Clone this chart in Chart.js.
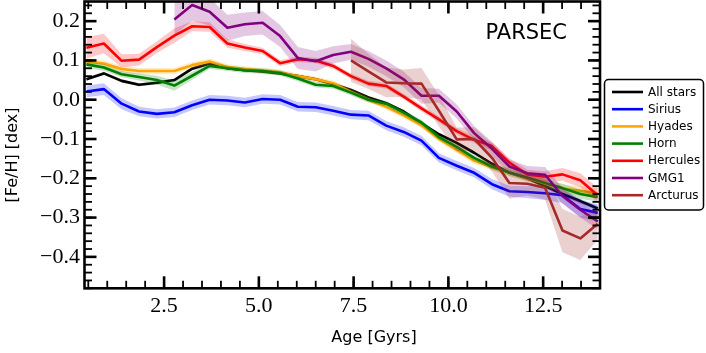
<!DOCTYPE html>
<html><head><meta charset="utf-8">
<script src="https://cdn.jsdelivr.net/npm/chart.js@4/dist/chart.umd.min.js"></script>
<style>html,body{margin:0;padding:0;background:#fff;}</style>
</head><body>
<canvas id="c" width="706" height="353"></canvas>
<script>
// ---- data ----
const ages = [0.45,0.91,1.38,1.84,2.31,2.77,3.24,3.70,4.17,4.63,5.10,5.56,6.03,6.50,6.96,7.43,7.89,8.36,8.82,9.29,9.75,10.22,10.68,11.15,11.61,12.08,12.55,13.01,13.48,13.94];

const allStars    = [0.052,0.067,0.048,0.038,0.043,0.050,0.079,0.092,0.080,0.075,0.072,0.067,0.060,0.052,0.040,0.025,0.006,-0.009,-0.030,-0.060,-0.088,-0.110,-0.135,-0.163,-0.186,-0.200,-0.220,-0.240,-0.258,-0.277];
const allStarsErr = [0.004,0.004,0.004,0.004,0.004,0.004,0.004,0.004,0.004,0.004,0.004,0.004,0.004,0.004,0.004,0.004,0.004,0.004,0.004,0.004,0.004,0.004,0.004,0.004,0.004,0.004,0.005,0.005,0.006,0.006];

const sirius      = [0.021,0.027,-0.010,-0.030,-0.036,-0.032,-0.014,0.000,-0.002,-0.007,0.002,0.000,-0.018,-0.019,-0.028,-0.038,-0.040,-0.066,-0.082,-0.104,-0.148,-0.168,-0.186,-0.215,-0.233,-0.235,-0.238,-0.243,-0.278,-0.288];
const siriusErr   = [0.015,0.015,0.014,0.012,0.012,0.012,0.012,0.012,0.012,0.012,0.012,0.012,0.012,0.012,0.012,0.012,0.012,0.012,0.012,0.012,0.012,0.012,0.012,0.013,0.014,0.015,0.017,0.020,0.022,0.022];

const hyades      = [0.097,0.092,0.078,0.073,0.073,0.073,0.088,0.097,0.083,0.078,0.074,0.070,0.060,0.052,0.042,0.020,0.000,-0.018,-0.040,-0.065,-0.100,-0.128,-0.155,-0.172,-0.185,-0.200,-0.213,-0.226,-0.232,-0.238];
const hyadesErr   = [0.009,0.008,0.008,0.008,0.008,0.008,0.008,0.008,0.007,0.007,0.007,0.007,0.007,0.007,0.007,0.007,0.007,0.007,0.007,0.007,0.007,0.008,0.008,0.008,0.009,0.009,0.010,0.011,0.012,0.012];

const horn        = [0.090,0.082,0.065,0.058,0.050,0.036,0.061,0.086,0.080,0.075,0.073,0.068,0.054,0.038,0.035,0.018,0.000,-0.010,-0.033,-0.058,-0.095,-0.120,-0.148,-0.170,-0.185,-0.198,-0.212,-0.225,-0.240,-0.248];
const hornErr     = [0.009,0.008,0.008,0.009,0.011,0.013,0.010,0.008,0.007,0.007,0.007,0.007,0.007,0.007,0.007,0.007,0.007,0.007,0.007,0.007,0.007,0.008,0.008,0.008,0.009,0.009,0.010,0.011,0.012,0.012];

const hercules    = [0.132,0.143,0.099,0.102,0.134,0.163,0.187,0.185,0.143,0.133,0.124,0.093,0.103,0.100,0.086,0.060,0.041,0.035,0.008,-0.022,-0.050,-0.080,-0.102,-0.118,-0.160,-0.190,-0.196,-0.190,-0.205,-0.243];
const herculesErr = [0.027,0.025,0.017,0.015,0.015,0.018,0.013,0.012,0.011,0.009,0.008,0.008,0.007,0.007,0.007,0.007,0.007,0.007,0.007,0.008,0.008,0.008,0.009,0.010,0.011,0.012,0.014,0.016,0.018,0.019];

const gmg1        = [null,null,null,null,null,0.204,0.241,0.224,0.183,0.192,0.196,0.162,0.106,0.098,0.114,0.122,0.104,0.080,0.052,0.010,0.010,-0.030,-0.085,-0.125,-0.170,-0.187,-0.191,-0.245,-0.280,-0.310];
const gmg1Err     = [null,null,null,null,null,0.040,0.040,0.035,0.033,0.030,0.030,0.028,0.028,0.026,0.022,0.020,0.020,0.020,0.020,0.020,0.018,0.018,0.018,0.018,0.018,0.018,0.020,0.020,0.020,0.020];

const arcturus    = [null,null,null,null,null,null,null,null,null,null,null,null,null,null,null,0.100,0.072,0.044,0.042,0.041,-0.028,-0.101,-0.100,-0.148,-0.212,-0.214,-0.224,-0.333,-0.353,-0.316];
const arcturusErr = [null,null,null,null,null,null,null,null,null,null,null,null,null,null,null,0.055,0.045,0.038,0.035,0.040,0.040,0.030,0.030,0.035,0.040,0.030,0.030,0.055,0.055,0.040];

const seriesNames  = ['All stars','Sirius','Hyades','Horn','Hercules','GMG1','Arcturus'];
const seriesValues = [allStars, sirius, hyades, horn, hercules, gmg1, arcturus];
const seriesErrors = [allStarsErr, siriusErr, hyadesErr, hornErr, herculesErr, gmg1Err, arcturusErr];
const seriesColors = ['#000000','#0000ff','#ffa500','#008000','#ff0000','#800080','#a52a2a'];

const xTicks = [2.5, 5.0, 7.5, 10.0, 12.5];
const yTicks = [-0.4, -0.3, -0.2, -0.1, 0.0, 0.1, 0.2];
const xRange = [0.4, 14.0];
const yRange = [-0.48, 0.25];
const xMinorStep = 0.5;
const yMinorStep = 0.02;
const xTitle = 'Age [Gyrs]';
const yTitle = '[Fe/H] [dex]';
const panelLabel = 'PARSEC';

// ---- helpers ----
function rgba(hex, a) {
  const n = parseInt(hex.slice(1), 16);
  return `rgba(${(n>>16)&255},${(n>>8)&255},${n&255},${a})`;
}
function pts(vals) { return ages.map((x, i) => ({x: x, y: vals[i]})); }
function fmt(v) {
  const s = Math.abs(v).toFixed(1);
  return v < -1e-9 ? '\u2212' + s : s;
}

const datasets = [];
seriesNames.forEach((name, i) => {
  const v = seriesValues[i], e = seriesErrors[i], c = seriesColors[i];
  const lo = v.map((y, k) => y === null ? null : y - e[k]);
  const hi = v.map((y, k) => y === null ? null : y + e[k]);
  const base = (7 - i) * 10;
  datasets.push({label: name + ' lo', data: pts(lo), borderWidth: 0, borderColor: 'rgba(0,0,0,0)', pointRadius: 0, fill: false, order: base + 2, clip: 0});
  datasets.push({label: name + ' hi', data: pts(hi), borderWidth: 0, borderColor: 'rgba(0,0,0,0)', pointRadius: 0, fill: '-1', backgroundColor: rgba(c, 0.22), order: base + 1, clip: 0});
  datasets.push({label: name, data: pts(v), borderColor: c, borderWidth: 2.6, pointRadius: 0, fill: false, order: base, clip: 0, borderJoinStyle: 'round', borderCapStyle: 'butt'});
});

const decor = {
  id: 'decor',
  afterDraw(chart) {
    const {ctx, chartArea: a, scales: {x, y}} = chart;
    ctx.save();
    ctx.strokeStyle = '#000';
    ctx.lineCap = 'butt';
    // minor ticks
    ctx.lineWidth = 1.8;
    for (let k = Math.ceil(xRange[0] / xMinorStep); k * xMinorStep <= xRange[1] + 1e-9; k++) {
      const px = x.getPixelForValue(k * xMinorStep);
      ctx.beginPath(); ctx.moveTo(px, a.bottom); ctx.lineTo(px, a.bottom - 7.5); ctx.stroke();
      ctx.beginPath(); ctx.moveTo(px, a.top); ctx.lineTo(px, a.top + 7.5); ctx.stroke();
    }
    for (let k = Math.ceil(yRange[0] / yMinorStep - 1e-6); k * yMinorStep <= yRange[1] + 1e-9; k++) {
      const py = y.getPixelForValue(k * yMinorStep);
      ctx.beginPath(); ctx.moveTo(a.left, py); ctx.lineTo(a.left + 7.5, py); ctx.stroke();
      ctx.beginPath(); ctx.moveTo(a.right, py); ctx.lineTo(a.right - 7.5, py); ctx.stroke();
    }
    // major ticks
    ctx.lineWidth = 2.6;
    xTicks.forEach(v => {
      const px = x.getPixelForValue(v);
      ctx.beginPath(); ctx.moveTo(px, a.bottom); ctx.lineTo(px, a.bottom - 12); ctx.stroke();
      ctx.beginPath(); ctx.moveTo(px, a.top); ctx.lineTo(px, a.top + 12); ctx.stroke();
    });
    yTicks.forEach(v => {
      const py = y.getPixelForValue(v);
      ctx.beginPath(); ctx.moveTo(a.left, py); ctx.lineTo(a.left + 12, py); ctx.stroke();
      ctx.beginPath(); ctx.moveTo(a.right, py); ctx.lineTo(a.right - 12, py); ctx.stroke();
    });
    // frame
    ctx.lineWidth = 2.6;
    ctx.strokeRect(a.left, a.top, a.right - a.left, a.bottom - a.top);

    // panel label
    ctx.fillStyle = '#000';
    ctx.font = '21px "DejaVu Sans"';
    ctx.textAlign = 'right';
    ctx.textBaseline = 'alphabetic';
    ctx.fillText(panelLabel, 567, 39);

    // axis titles
    ctx.font = '16px "DejaVu Sans"';
    ctx.textAlign = 'center';
    ctx.textBaseline = 'middle';
    ctx.fillText(xTitle, 374, 338);
    ctx.save();
    ctx.translate(13, 155);
    ctx.rotate(-Math.PI / 2);
    ctx.fillText(yTitle, 0, 0);
    ctx.restore();

    // legend
    const lx = 604.5, ly = 79.5, lw = 99, lh = 130.5, r = 4;
    ctx.beginPath();
    ctx.moveTo(lx + r, ly);
    ctx.arcTo(lx + lw, ly, lx + lw, ly + lh, r);
    ctx.arcTo(lx + lw, ly + lh, lx, ly + lh, r);
    ctx.arcTo(lx, ly + lh, lx, ly, r);
    ctx.arcTo(lx, ly, lx + lw, ly, r);
    ctx.closePath();
    ctx.fillStyle = '#fff';
    ctx.fill();
    ctx.lineWidth = 1.5;
    ctx.strokeStyle = '#000';
    ctx.stroke();
    ctx.font = '12px "DejaVu Sans"';
    ctx.textAlign = 'left';
    ctx.textBaseline = 'middle';
    seriesNames.forEach((n, i) => {
      const yy = 92 + i * 17.2;
      ctx.strokeStyle = seriesColors[i];
      ctx.lineWidth = 2.6;
      ctx.beginPath(); ctx.moveTo(612, yy); ctx.lineTo(643, yy); ctx.stroke();
      ctx.fillStyle = '#000';
      ctx.fillText(n, 648, yy + 0.5);
    });
    ctx.restore();
  }
};

new Chart(document.getElementById('c'), {
  type: 'line',
  data: {datasets: datasets},
  plugins: [decor],
  options: {
    responsive: false,
    animation: false,
    devicePixelRatio: 1,
    layout: {padding: {left: 0, right: 106, top: 1.5, bottom: 0}},
    plugins: {legend: {display: false}, tooltip: {enabled: false}},
    elements: {point: {radius: 0}, line: {tension: 0}},
    scales: {
      x: {
        type: 'linear', position: 'bottom', min: xRange[0], max: xRange[1],
        grid: {display: false, drawTicks: false}, border: {display: false},
        afterBuildTicks: s => { s.ticks = xTicks.map(v => ({value: v})); },
        afterFit: s => { s.height = 64.7; s.paddingLeft = 0; s.paddingRight = 0; },
        ticks: {autoSkip: false, maxRotation: 0, padding: 5, color: '#000',
                font: {family: '"Liberation Serif"', size: 22}, callback: v => fmt(v)}
      },
      y: {
        type: 'linear', position: 'left', min: yRange[0], max: yRange[1],
        grid: {display: false, drawTicks: false}, border: {display: false},
        afterBuildTicks: s => { s.ticks = yTicks.map(v => ({value: v})); },
        afterFit: s => { s.width = 84.5; s.paddingTop = 0; s.paddingBottom = 0; },
        ticks: {autoSkip: false, padding: 4.5, color: '#000',
                font: {family: '"Liberation Serif"', size: 22}, callback: v => fmt(v)}
      }
    }
  }
});
</script>
</body></html>
